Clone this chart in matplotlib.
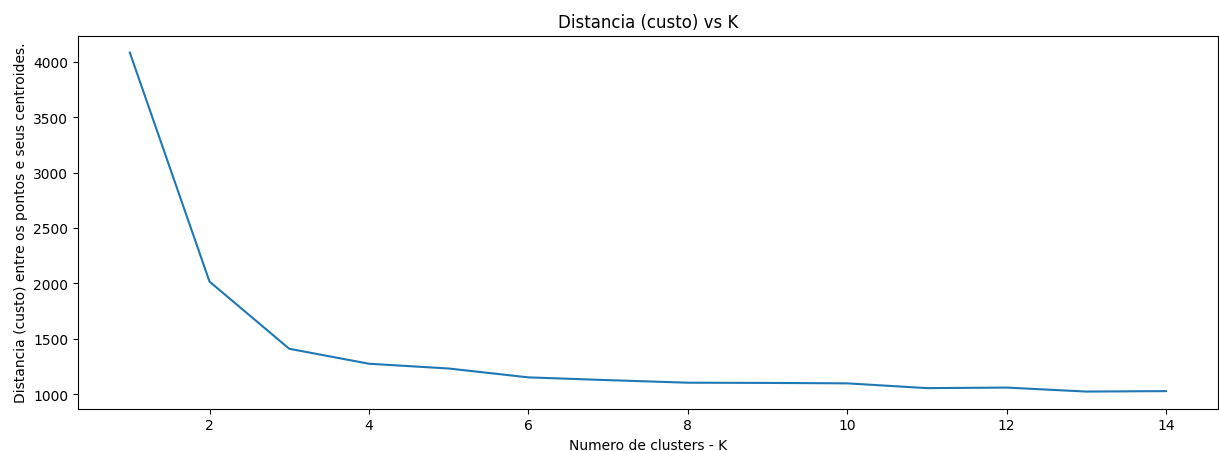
import matplotlib
matplotlib.use("Agg")
import matplotlib.pyplot as plt

k_values = list(range(1, 15))
custo = [4082, 2016, 1410, 1275, 1232, 1152, 1127, 1104, 1102, 1098, 1055, 1060, 1024, 1028]

fig, ax = plt.subplots(figsize=(12.19, 4.52), dpi=100)
ax.plot(k_values, custo)
ax.set_title("Distancia (custo) vs K")
ax.set_xlabel("Numero de clusters - K")
ax.set_ylabel("Distancia (custo) entre os pontos e seus centroides.")
fig.subplots_adjust(left=0.064, right=0.999, top=0.919, bottom=0.094)
fig.savefig("out.png", dpi=100)
